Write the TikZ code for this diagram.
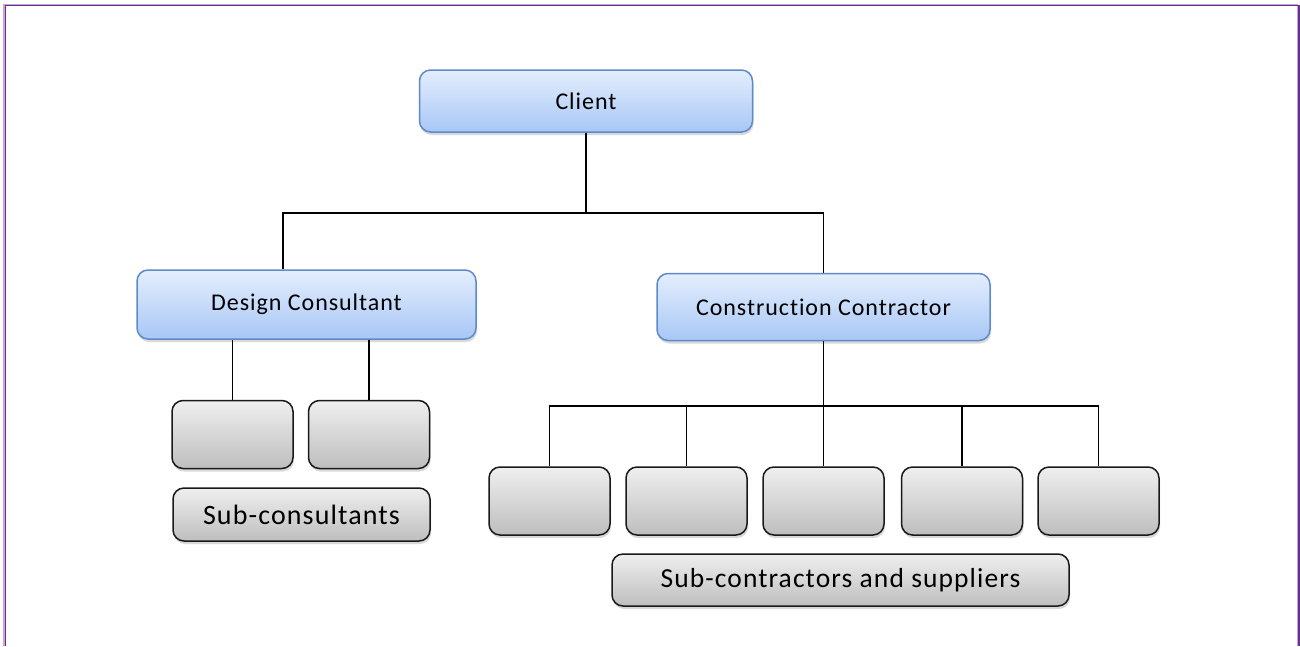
\documentclass[tikz,border=0pt]{standalone}
\usepackage{fontspec}
\setmainfont{Carlito}[Ligatures=NoCommon,LetterSpace=4]
\usetikzlibrary{shadows}

\definecolor{frameLight}{HTML}{C4A7D6}
\definecolor{frameDark}{HTML}{6B2D8E}
\definecolor{leadTop}{HTML}{E4EEFD}
\definecolor{leadBot}{HTML}{A8C7F6}
\definecolor{leadLine}{HTML}{5E8ACB}
\definecolor{partTop}{HTML}{EFEFEF}
\definecolor{partBot}{HTML}{BEBEBE}

\begin{document}
\begin{tikzpicture}[x=1pt,y=-1pt,
  lead/.style={draw=leadLine,line width=1.5pt,rounded corners=11pt,top color=leadTop,bottom color=leadBot,
    drop shadow={opacity=0.3,shadow xshift=1pt,shadow yshift=-3pt},inner sep=0pt,font=\fontsize{24}{28}\selectfont},
  part/.style={draw=black!90,line width=1.5pt,rounded corners=11pt,top color=partTop,bottom color=partBot,
    drop shadow={opacity=0.3,shadow xshift=1pt,shadow yshift=-3pt},inner sep=0pt,minimum width=121pt,minimum height=68pt},
  link/.style={line width=1.5pt,black}]
\useasboundingbox (0,0) rectangle (1300,646);
% frame
\draw[frameLight,line width=1.2pt] (4,646) -- (4,4.3) -- (1297.7,4.3) -- (1297.7,646);
\draw[frameDark,line width=1.4pt] (5.5,646) -- (5.5,5.6) -- (1299,5.6) -- (1299,646);
% top levels
\node[lead,minimum width=333pt,minimum height=62pt] (client) at (586,101) {Client};
\node[lead,minimum width=339pt,minimum height=69pt] (design) at (306.5,304.5) {Design Consultant};
\node[lead,minimum width=333pt,minimum height=67pt] (contractor) at (823.5,307) {Construction Contractor};
\coordinate (ctop) at (586,213); \coordinate (dtop) at (283,213);
\draw[link] (client.south) -- (ctop);
\draw[link] (dtop |- design.north) -- (dtop) -| (contractor.north);
% sub-consultants
\foreach \x [count=\i] in {232.5,369}{\node[part] (cons\i) at (\x,434.5) {};}
\foreach \i in {1,2}{\draw[link] (cons\i.north |- design.south) -- (cons\i.north);}
\node[part,minimum width=257pt,minimum height=53pt,font=\fontsize{28}{33}\selectfont] (subcons) at (301.5,514.5) {Sub-consultants};
% sub-contractors
\foreach \x [count=\i] in {549.5,686.5,823.5,962,1098.5}{\node[part] (sub\i) at (\x,501) {};}
\coordinate (stop) at (823.5,406);
\draw[link] (contractor.south) -- (stop);
\draw[link] (sub1.north) |- (stop) -| (sub5.north);
\foreach \i in {2,3,4}{\draw[link] (sub\i.north |- stop) -- (sub\i.north);}
\node[part,minimum width=457pt,minimum height=52pt,font=\fontsize{27.5}{32}\selectfont] (subcontr) at (840.5,580) {Sub-contractors and suppliers};
\end{tikzpicture}
\end{document}
